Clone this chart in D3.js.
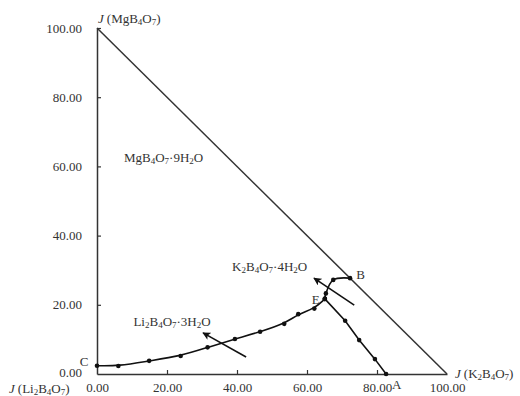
<!DOCTYPE html>
<html>
<head>
<meta charset="utf-8">
<script src="https://cdn.jsdelivr.net/npm/d3@7/dist/d3.min.js"></script>
<style>
  body { margin: 0; background: #fff; }
  svg text { font-family: "Liberation Serif", "DejaVu Serif", serif; fill: #333; }
</style>
</head>
<body>
<svg id="chart" width="520" height="396"></svg>
<script>
// ternary phase diagram, J index values
var tickValues = [0, 20, 40, 60, 80, 100];

// branch C-E (saturated with Li2B4O7·3H2O)
var ceX = [0, 6.1, 14.9, 23.9, 31.6, 39.4, 46.6, 53.5, 57.5, 62.1, 65.1];
var ceY = [2.4, 2.3, 3.8, 5.2, 7.7, 10.1, 12.2, 14.5, 17.3, 18.9, 21.7];

// branch E-B
var ebX = [65.1, 65.4, 67.5, 72.3];
var ebY = [21.7, 23.3, 27.2, 27.7];

// branch E-A
var eaX = [65.1, 70.9, 74.9, 79.4, 82.6];
var eaY = [21.7, 15.4, 9.8, 4.3, 0];

// crystallisation direction arrows [from, to]
var arrows = [
  [[42.6, 4.9], [30.3, 11.9]],
  [[73.5, 19.9], [62.0, 27.7]]
];

var fieldLabels = [
  {t: "MgB4O7·9H2O", x: 7.7, y: 61.3, a: "start"},
  {t: "K2B4O7·4H2O", x: 38.6, y: 29.8, a: "start"},
  {t: "Li2B4O7·3H2O", x: 10.4, y: 13.9, a: "start"},
  {t: "E", x: 62.5, y: 20.2, a: "middle"},
  {t: "B", x: 75.3, y: 27.5, a: "middle"},
  {t: "C", x: -3.7, y: 2.3, a: "middle"},
  {t: "A", x: 85.6, y: -4.2, a: "middle"}
];

var svg = d3.select("#chart");
var x = d3.scaleLinear().domain([0, 100]).range([97, 447]);
var y = d3.scaleLinear().domain([0, 100]).range([374, 28]);
var fmt = d3.format(".2f");

// digits right after a letter become subscripts
function chem(sel, str) {
  var prevSub = false;
  str.split(/(?<=[A-Za-z\)])(\d+)/).forEach(function(p, i) {
    if (p === "") return;
    if (i % 2 === 1) {
      sel.append("tspan").attr("font-size", "9px").attr("dy", prevSub ? 0 : 2).text(p);
      prevSub = true;
    } else {
      var ts = sel.append("tspan").text(p);
      if (prevSub) ts.attr("dy", -2);
      prevSub = false;
    }
  });
  return prevSub;
}

var gx = svg.append("g")
  .attr("transform", "translate(0," + y(0) + ")")
  .call(d3.axisBottom(x).tickValues(tickValues).tickFormat(fmt)
    .tickSizeInner(-4).tickSizeOuter(0).tickPadding(9));
var gy = svg.append("g")
  .attr("transform", "translate(" + x(0) + ",0)")
  .call(d3.axisLeft(y).tickValues(tickValues).tickFormat(fmt)
    .tickSizeInner(-4).tickSizeOuter(0).tickPadding(15));

[gx, gy].forEach(function(g) {
  g.select(".domain").attr("stroke", "#333").attr("stroke-width", 1.5);
  g.selectAll(".tick line").attr("stroke", "#333").attr("stroke-width", 1.2);
  g.selectAll(".tick text").attr("font-size", "13px").attr("fill", "#333")
    .attr("font-family", "Liberation Serif, serif");
});
gy.selectAll(".tick").filter(function(d) { return d === 0; })
  .call(function(t) { t.select("line").remove(); t.select("text").attr("dy", "0.2em"); });
gx.selectAll(".tick").filter(function(d) { return d === 0 || d === 100; }).select("line").remove();

// hypotenuse
svg.append("line")
  .attr("x1", x(0)).attr("y1", y(100)).attr("x2", x(100)).attr("y2", y(0))
  .attr("stroke", "#333").attr("stroke-width", 1.5);

// axis titles
function axisTitle(px, py, name) {
  var t = svg.append("text").attr("x", px).attr("y", py).attr("font-size", "13px");
  t.append("tspan").attr("font-style", "italic").text("J");
  t.append("tspan").attr("dx", 3).text("(");
  var sub = chem(t, name);
  t.append("tspan").attr("dy", sub ? -2 : 0).text(")");
}
axisTitle(x(0) + 1, y(100) - 5, "MgB4O7");
axisTitle(x(100) + 8, y(0) + 4, "K2B4O7");
axisTitle(9, 393, "Li2B4O7");

var line = d3.line().x(function(d) { return x(d[0]); }).y(function(d) { return y(d[1]); });

function branch(xs, ys, curve) {
  var pts = xs.map(function(v, i) { return [v, ys[i]]; });
  svg.append("path").datum(pts)
    .attr("d", line.curve(curve))
    .attr("fill", "none").attr("stroke", "#111").attr("stroke-width", 1.6);
  svg.selectAll(null).data(pts).enter().append("circle")
    .attr("cx", function(d) { return x(d[0]); })
    .attr("cy", function(d) { return y(d[1]); })
    .attr("r", 2.3).attr("fill", "#111");
}
branch(ceX, ceY, d3.curveBasis);
branch(ebX, ebY, d3.curveCatmullRom);
branch(eaX, eaY, d3.curveLinear);

svg.append("defs").append("marker")
  .attr("id", "arr").attr("viewBox", "0 0 10 10")
  .attr("refX", 9).attr("refY", 5)
  .attr("markerWidth", 5).attr("markerHeight", 5)
  .attr("orient", "auto")
  .append("path").attr("d", "M0,0L10,5L0,10L2.5,5Z").attr("fill", "#111");

svg.selectAll(".arrow").data(arrows).enter().append("line")
  .attr("class", "arrow")
  .attr("x1", function(d) { return x(d[0][0]); })
  .attr("y1", function(d) { return y(d[0][1]); })
  .attr("x2", function(d) { return x(d[1][0]); })
  .attr("y2", function(d) { return y(d[1][1]); })
  .attr("stroke", "#111").attr("stroke-width", 1.6)
  .attr("marker-end", "url(#arr)");

fieldLabels.forEach(function(l) {
  var t = svg.append("text").attr("x", x(l.x)).attr("y", y(l.y))
    .attr("font-size", "13px").attr("text-anchor", l.a);
  chem(t, l.t);
});
</script>
</body>
</html>
